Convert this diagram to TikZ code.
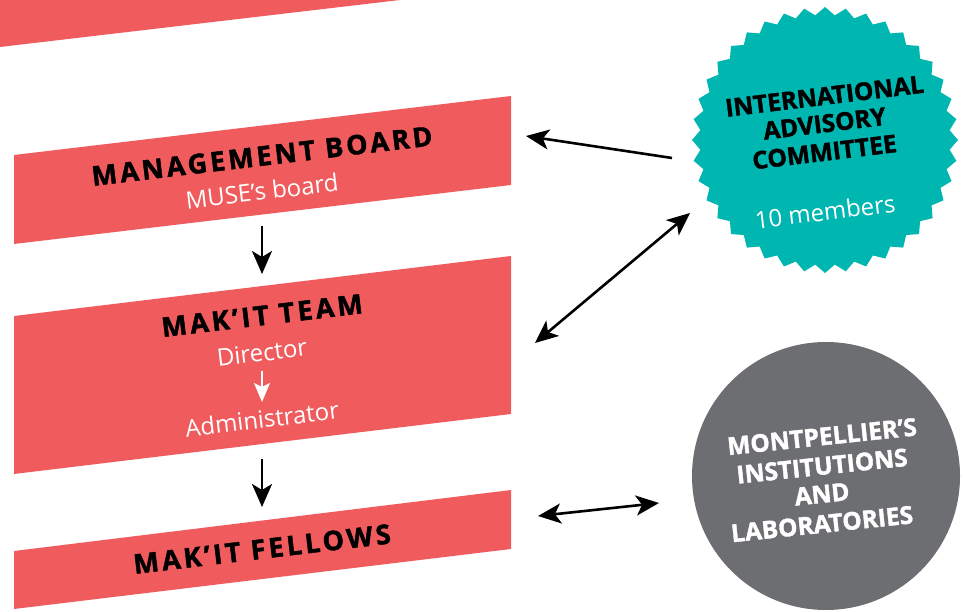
\documentclass[tikz,border=0pt]{standalone}
\usepackage{fontspec}
\setmainfont{Open Sans}
\newfontfamily\spaced{Open Sans}[LetterSpace=11.5, BoldFeatures={FakeBold=1.6}]
\newfontfamily\heavy{Open Sans}[BoldFeatures={FakeBold=1.6}]
\usepackage{tikz}
\usetikzlibrary{arrows.meta}
\usetikzlibrary{shapes.geometric}
\definecolor{bandred}{HTML}{F05B5D}
\definecolor{iacteal}{HTML}{00B6B1}
\definecolor{labgrey}{HTML}{6D6E71}
\tikzset{band/.style = {fill=bandred},
         title/.style = {inner sep=0, rotate=6.8,
                         font=\spaced\bfseries\fontsize{27}{30}\selectfont},
         sub/.style = {inner sep=0, rotate=6.8, text=white,
                       font=\fontsize{24}{28}\selectfont},
         iactext/.style = {inner sep=0, rotate=7,
                           font=\heavy\bfseries\fontsize{24.5}{28}\selectfont},
         labtext/.style = {inner sep=0, rotate=6, text=white,
                           font=\heavy\bfseries\fontsize{24.5}{28}\selectfont},
         link/.style = {line width=2.6pt,
                        -{Stealth[length=23pt, width=20pt, inset=6pt]}},
         links/.style = {line width=2.6pt,
                         {Stealth[length=23pt, width=20pt, inset=6pt]}-{Stealth[length=23pt, width=20pt, inset=6pt]}}}

\begin{document}
\begin{tikzpicture}[x=1pt, y=-1pt]
    \useasboundingbox (0, 0) rectangle (964, 612);
    \fill [band] (0, 0) -- (400, 0) -- (0, 47) -- cycle;
    \fill [band] (14, 155) -- (511, 96) -- (511, 185) -- (14, 244) -- cycle;
    \fill [band] (14, 316) -- (511, 256) -- (511, 414) -- (14, 474) -- cycle;
    \fill [band] (14, 551) -- (511, 490) -- (511, 549) -- (14, 609) -- cycle;
    \node [title] (mb) at (262, 156) {MANAGEMENT BOARD};
    \node [sub] (mbsub) at (262, 191) {MUSE’s board};
    \node [title] (team) at (262, 315.5) {MAK’IT TEAM};
    \node [sub] (dir) at (262, 352.5) {Director};
    \node [sub] (adm) at (262, 419) {Administrator};
    \node [title] (fellows) at (262, 549) {MAK’IT FELLOWS};
    \draw [white, line width=2pt, shorten <=18.5pt, shorten >=17pt,
           -{Stealth[length=19pt, width=16pt, inset=4pt]}] (dir.center) -- (adm.center);
    \node [star, star points=40, star point height=8pt, minimum size=266pt,
           inner sep=0, fill=iacteal] (iac) at (825, 140) {};
    \node [iactext] (iac1) at (824.5, 96) {INTERNATIONAL};
    \node [iactext] (iac2) at (824.5, 123.5) {ADVISORY};
    \node [iactext] (iac3) at (824.5, 152) {COMMITTEE};
    \node [sub, rotate=0.2] (iac4) at (825, 211.5) {10 members};
    \node [circle, minimum size=268pt, inner sep=0, fill=labgrey] (lab) at (826, 476) {};
    \node [labtext] (lab1) at (822, 436.5) {MONTPELLIER’S};
    \node [labtext] (lab2) at (822, 466) {INSTITUTIONS};
    \node [labtext] (lab3) at (822, 494) {AND};
    \node [labtext] (lab4) at (822, 524) {LABORATORIES};
    \coordinate (mbdown) at (262, 226);
    \coordinate (teamup) at (262, 274);
    \coordinate (teamdown) at (262, 459);
    \coordinate (fellowsup) at (262, 507);
    \coordinate (mbright) at (526, 136);
    \coordinate (iacleft) at (672, 158);
    \coordinate (teamright) at (535, 343);
    \coordinate (iacdown) at (690, 213);
    \coordinate (fellowsright) at (538, 516);
    \coordinate (lableft) at (659, 503);
    \draw [link] (mbdown) -- (teamup);
    \draw [link] (teamdown) -- (fellowsup);
    \draw [link] (iacleft) -- (mbright);
    \draw [links] (teamright) -- (iacdown);
    \draw [links] (fellowsright) -- (lableft);
  \end{tikzpicture}
\end{document}
